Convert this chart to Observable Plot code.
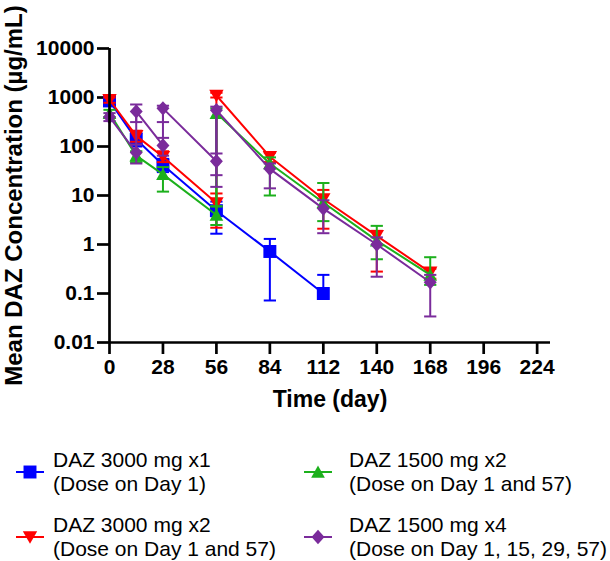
<!DOCTYPE html>
<html>
<head>
<meta charset="utf-8">
<script src="https://cdn.jsdelivr.net/npm/d3@7"></script>
<script src="https://cdn.jsdelivr.net/npm/@observablehq/plot@0.6"></script>
<style>
  body { margin: 0; background: #fff; }
  #wrap { position: relative; width: 610px; height: 561px; font-family: "Liberation Sans", Arial, sans-serif; color: #000; }
  #wrap svg.plot g[aria-label="y-axis label"] { font-size: 24px; }
  #wrap svg.plot g[aria-label="x-axis label"] { font-size: 23px; }
  #wrap svg.plot g[aria-label="x-axis tick"] path,
  #wrap svg.plot g[aria-label="y-axis tick"] path { stroke-width: 2.7px; }
  .leg-text { position: absolute; font-size: 21px; line-height: 24px; white-space: nowrap; }
  .leg-sw { position: absolute; }
</style>
</head>
<body>
<div id="wrap"></div>
<script>
// ---- data ----
const seriesNames = ["DAZ 3000 mg x1", "DAZ 3000 mg x2", "DAZ 1500 mg x2", "DAZ 1500 mg x4"];
const doseNotes = ["(Dose on Day 1)", "(Dose on Day 1 and 57)", "(Dose on Day 1 and 57)", "(Dose on Day 1, 15, 29, 57)"];
const seriesColors = ["#0000ff", "#ff0000", "#1cb01c", "#7a2b9b"];
const seriesSymbols = ["square", "down", "up", "diamond"];
const xTicks = [0, 28, 56, 84, 112, 140, 168, 196, 224];
const yTicks = [0.01, 0.1, 1, 10, 100, 1000, 10000];

// DAZ 3000 mg x1
const day3000x1 = [0, 14, 28, 56, 84, 112];
const mean3000x1 = [850, 140, 42, 4.9, 0.72, 0.10];
const lo3000x1 = [720, 100, 30, 1.66, 0.072, null];
const hi3000x1 = [1000, 190, 56, 7.5, 1.3, 0.24];

// DAZ 3000 mg x2
const day3000x2 = [0, 14, 28, 56, 56, 84, 112, 140, 168];
const mean3000x2 = [900, 165, 62, 7, 1100, 62, 8.5, 1.5, 0.27];
const lo3000x2 = [780, 125, 48, 2.2, 1000, 48, 2.1, 0.28, 0.2];
const hi3000x2 = [1000, 210, 80, 11, 1250, 75, 13, 1.9, 0.32];

// DAZ 1500 mg x2
const day1500x2 = [0, 14, 28, 56, 56, 84, 112, 140, 168];
const mean1500x2 = [480, 65, 27, 4, 480, 45, 7.2, 1.2, 0.24];
const lo1500x2 = [400, 48, 12, 2.5, 6, 10, 3, 0.5, 0.15];
const hi1500x2 = [560, 80, 38, 6, 600, 60, 18, 2.4, 0.55];

// DAZ 1500 mg x4
const day1500x4 = [0, 14, 14, 28, 28, 56, 56, 84, 112, 140, 168];
const mean1500x4 = [400, 75, 520, 105, 600, 50, 550, 35, 5.4, 1.0, 0.17];
const lo1500x4 = [330, 45, 315, 65, 315, 26, 15, 14, 1.7, 0.22, 0.034];
const hi1500x4 = [480, 110, 720, 150, 680, 72, 650, 45, 8, 1.4, 0.24];

const seriesData = [
  [day3000x1, mean3000x1, lo3000x1, hi3000x1],
  [day3000x2, mean3000x2, lo3000x2, hi3000x2],
  [day1500x2, mean1500x2, lo1500x2, hi1500x2],
  [day1500x4, mean1500x4, lo1500x4, hi1500x4]
];

// ---- symbols ----
function shape(kind) {
  return {
    draw(ctx, size) {
      const r = Math.sqrt(size / Math.PI);
      if (kind === "square") {
        const h = r * 0.9;
        ctx.moveTo(-h, -h); ctx.lineTo(h, -h); ctx.lineTo(h, h); ctx.lineTo(-h, h); ctx.closePath();
      } else if (kind === "up") {
        ctx.moveTo(0, -r * 0.9); ctx.lineTo(r * 0.95, r * 0.8); ctx.lineTo(-r * 0.95, r * 0.8); ctx.closePath();
      } else if (kind === "down") {
        ctx.moveTo(-r, -r * 0.8); ctx.lineTo(r, -r * 0.8); ctx.lineTo(0, r * 0.95); ctx.closePath();
      } else if (kind === "diamond") {
        ctx.moveTo(0, -r); ctx.lineTo(r * 0.9, 0); ctx.lineTo(0, r); ctx.lineTo(-r * 0.9, 0); ctx.closePath();
      } else if (kind === "cap") {
        ctx.moveTo(-r * 0.85, 0); ctx.lineTo(r * 0.85, 0);
      }
    }
  };
}
const R = 7.2;

// ---- tables ----
const tables = seriesData.map(([day, mean, lo, hi], s) =>
  day.map((d, i) => ({series: seriesNames[s], day: d, mean: mean[i], lo: lo[i] ?? mean[i], hasLo: lo[i] != null, hi: hi[i]}))
);

const marks = [];
tables.forEach((rows, s) => {
  const color = seriesColors[s];
  const caps = rows.flatMap(r => (r.hasLo ? [{day: r.day, v: r.lo}] : []).concat([{day: r.day, v: r.hi}]));
  marks.push(
    Plot.line(rows, {x: "day", y: "mean", stroke: color, strokeWidth: 2}),
    Plot.ruleX(rows, {x: "day", y1: "lo", y2: "hi", stroke: color, strokeWidth: 2}),
    Plot.dot(caps, {x: "day", y: "v", symbol: shape("cap"), r: R, stroke: color, strokeWidth: 2, fill: "none"}),
    Plot.dot(rows, {x: "day", y: "mean", symbol: shape(seriesSymbols[s]), r: R, fill: color, stroke: "none"})
  );
});

const chart = Plot.plot({
  width: 610,
  height: 425,
  marginLeft: 109,
  marginRight: 60,
  marginTop: 48,
  marginBottom: 83,
  style: {fontFamily: '"Liberation Sans", Arial, sans-serif', fontSize: "21px", fontWeight: "bold", color: "#000", background: "transparent", overflow: "visible"},
  x: {domain: [0, 231], ticks: xTicks, tickSize: 12, tickPadding: 5, tickFormat: d => String(d),
      label: "Time (day)", labelAnchor: "center", labelOffset: 64, labelArrow: "none"},
  y: {type: "log", domain: [0.01, 10000], ticks: yTicks, tickSize: 12, tickPadding: 3, tickFormat: d => String(d),
      label: "Mean DAZ Concentration (µg/mL)", labelAnchor: "center", labelOffset: 105, labelArrow: "none"},
  marks: [
    ...marks,
    Plot.ruleX([0], {stroke: "#000", strokeWidth: 2.7}),
    Plot.ruleY([0.01], {stroke: "#000", strokeWidth: 2.7})
  ]
});
chart.classList.add("plot");
const wrap = document.getElementById("wrap");
wrap.appendChild(chart);

// ---- legend ----
const legendCols = [{sw: 16, tx: 53}, {sw: 304, tx: 349}];
const legendRows = [{top: 448, sw: 472}, {top: 513, sw: 537}];
const legendPlace = [[0, 0], [0, 1], [1, 0], [1, 1]];
seriesNames.forEach((name, s) => {
  const [c, r] = legendPlace[s];
  const col = legendCols[c], row = legendRows[r];
  const sw = d3.create("svg").attr("class", "leg-sw").attr("width", 30).attr("height", 20)
    .style("left", col.sw + "px").style("top", (row.sw - 10) + "px");
  sw.append("line").attr("x1", 0).attr("x2", 28).attr("y1", 10).attr("y2", 10)
    .attr("stroke", seriesColors[s]).attr("stroke-width", 2);
  sw.append("path").attr("transform", "translate(14,10)")
    .attr("d", d3.symbol(shape(seriesSymbols[s]), R * R * Math.PI)())
    .attr("fill", seriesColors[s]);
  wrap.appendChild(sw.node());
  const tx = document.createElement("div");
  tx.className = "leg-text";
  tx.style.left = col.tx + "px";
  tx.style.top = row.top + "px";
  tx.innerHTML = name + "<br>" + doseNotes[s];
  wrap.appendChild(tx);
});
</script>
</body>
</html>
